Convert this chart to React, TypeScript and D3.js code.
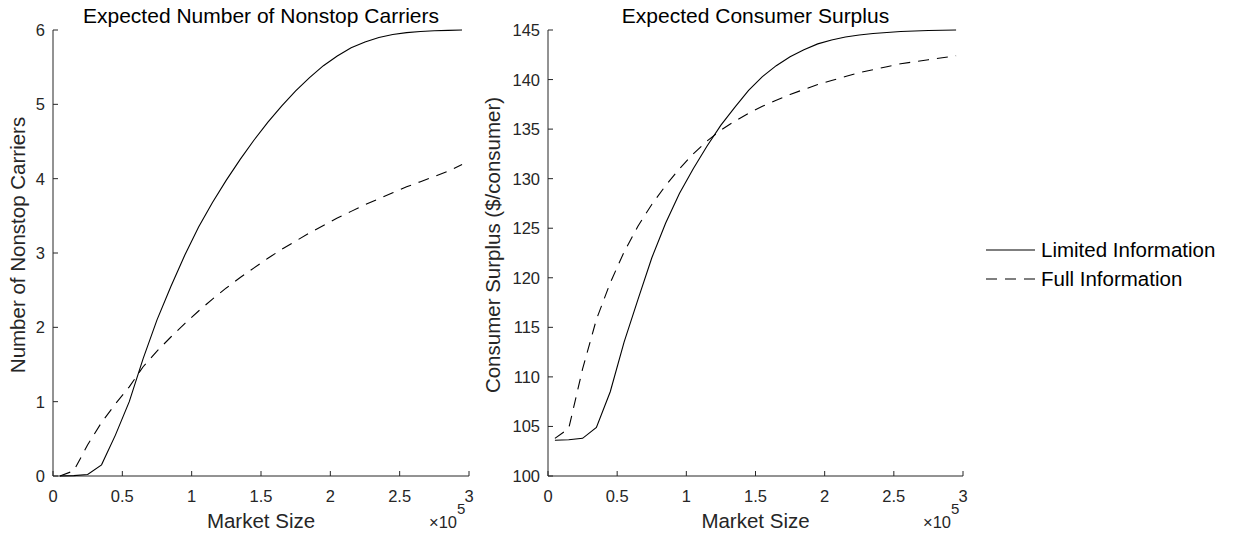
import * as d3 from 'd3'

// market size (x 1e5), sampled every 10,000
const marketSize = [
  0.05, 0.15, 0.25, 0.35, 0.45, 0.55, 0.65, 0.75, 0.85, 0.95,
  1.05, 1.15, 1.25, 1.35, 1.45, 1.55, 1.65, 1.75, 1.85, 1.95,
  2.05, 2.15, 2.25, 2.35, 2.45, 2.55, 2.65, 2.75, 2.85, 2.95,
]

const carriersLimited = [
  0, 0.005, 0.02, 0.15, 0.55, 1.0, 1.58, 2.1, 2.55, 2.97,
  3.35, 3.68, 3.98, 4.26, 4.52, 4.76, 4.98, 5.18, 5.36, 5.52,
  5.65, 5.76, 5.84, 5.9, 5.94, 5.965, 5.98, 5.99, 5.995, 6.0,
]
const carriersFull = [
  0, 0.07, 0.42, 0.72, 0.97, 1.2, 1.47, 1.68, 1.87, 2.05,
  2.22, 2.38, 2.53, 2.67, 2.8, 2.93, 3.05, 3.16, 3.27, 3.37,
  3.47, 3.56, 3.65, 3.73, 3.81, 3.89, 3.96, 4.03, 4.1, 4.19,
]

const surplusLimited = [
  103.6, 103.65, 103.8, 104.9, 108.5, 113.5, 117.8, 122.0, 125.5, 128.5,
  131.0, 133.3, 135.4, 137.2, 138.9, 140.3, 141.4, 142.3, 143.0, 143.6,
  144.0, 144.3, 144.5, 144.65, 144.75, 144.85, 144.9, 144.95, 144.97, 145.0,
]
const surplusFull = [
  103.8, 104.8, 110.8, 115.8, 119.5, 122.6, 125.2, 127.4, 129.3, 131.0,
  132.5, 133.8, 134.9, 135.8, 136.6, 137.3, 137.9, 138.5, 139.0, 139.5,
  139.9, 140.3, 140.7, 141.0, 141.3, 141.6, 141.8, 142.0, 142.2, 142.4,
]

const xTicks = [0, 0.5, 1, 1.5, 2, 2.5, 3]
const carrierTicks = [0, 1, 2, 3, 4, 5, 6]
const surplusTicks = [100, 105, 110, 115, 120, 125, 130, 135, 140, 145]

const seriesNames = ['Limited Information', 'Full Information']

const FONT = '"Liberation Sans", Arial, Helvetica, sans-serif'
const AX = '#262626'
const DASH = '11,8'
const TICK_FS = 16.5
const LABEL_FS = 20.5

interface PanelProps {
  left: number
  right: number
  domain: [number, number]
  yTicks: number[]
  limited: number[]
  full: number[]
  title: string
  yLabel: string
  yLabelX: number
}

const TOP = 30
const BOTTOM = 476

function Panel({ left, right, domain, yTicks, limited, full, title, yLabel, yLabelX }: PanelProps) {
  const x = d3.scaleLinear().domain([0, 3]).range([left, right])
  const y = d3.scaleLinear().domain(domain).range([BOTTOM, TOP])
  const line = d3.line<number>().x((_, i) => x(marketSize[i])).y(d => y(d))
  const cx = (left + right) / 2

  return (
    <g fontFamily={FONT}>
      {/* axes, MATLAB style with box off and inward ticks */}
      <line x1={left} x2={right} y1={BOTTOM} y2={BOTTOM} stroke={AX} strokeWidth={1} />
      <line x1={left} x2={left} y1={TOP} y2={BOTTOM} stroke={AX} strokeWidth={1} />
      {xTicks.map(t => (
        <g key={'x' + t}>
          <line x1={x(t)} x2={x(t)} y1={BOTTOM} y2={BOTTOM - 5} stroke={AX} />
          <text x={x(t)} y={502} fontSize={TICK_FS} textAnchor="middle" fill={AX}>{t}</text>
        </g>
      ))}
      {yTicks.map(t => (
        <g key={'y' + t}>
          <line x1={left} x2={left + 5} y1={y(t)} y2={y(t)} stroke={AX} />
          <text x={left - 8} y={y(t) + 6} fontSize={TICK_FS} textAnchor="end" fill={AX}>{t}</text>
        </g>
      ))}

      {/* curves */}
      <path d={line(limited) ?? ''} fill="none" stroke="#000" strokeWidth={1.1} />
      <path d={line(full) ?? ''} fill="none" stroke="#000" strokeWidth={1.1} strokeDasharray={DASH} />

      {/* labels */}
      <text x={cx} y={23} fontSize={21} textAnchor="middle" fill="#000">{title}</text>
      <text x={cx} y={528} fontSize={LABEL_FS} textAnchor="middle" fill={AX}>Market Size</text>
      <text
        transform={`translate(${yLabelX},${(TOP + BOTTOM) / 2 - 8}) rotate(-90)`}
        fontSize={LABEL_FS}
        textAnchor="middle"
        fill={AX}
      >
        {yLabel}
      </text>
      <text x={right - 12} y={528} fontSize={TICK_FS} textAnchor="end" fill={AX}>×10</text>
      <text x={right - 12} y={514} fontSize={15} fill={AX}>5</text>
    </g>
  )
}

export default function App() {
  return (
    <svg width={1237} height={535} style={{ position: 'absolute', left: 0, top: 0, background: '#fff' }}>
      <rect width={1237} height={535} fill="#fff" />
      <Panel
        left={53}
        right={469}
        domain={[0, 6]}
        yTicks={carrierTicks}
        limited={carriersLimited}
        full={carriersFull}
        title="Expected Number of Nonstop Carriers"
        yLabel="Number of Nonstop Carriers"
        yLabelX={25}
      />
      <Panel
        left={548}
        right={963}
        domain={[100, 145]}
        yTicks={surplusTicks}
        limited={surplusLimited}
        full={surplusFull}
        title="Expected Consumer Surplus"
        yLabel="Consumer Surplus ($/consumer)"
        yLabelX={500}
      />

      {/* legend */}
      {seriesNames.map((name, i) => (
        <g key={name}>
          <line
            x1={986}
            x2={1035}
            y1={250 + i * 29}
            y2={250 + i * 29}
            stroke="#000"
            strokeWidth={1.1}
            strokeDasharray={i === 1 ? DASH : undefined}
          />
          <text x={1041} y={257 + i * 29} fontFamily={FONT} fontSize={LABEL_FS} fill="#000">{name}</text>
        </g>
      ))}
    </svg>
  )
}
